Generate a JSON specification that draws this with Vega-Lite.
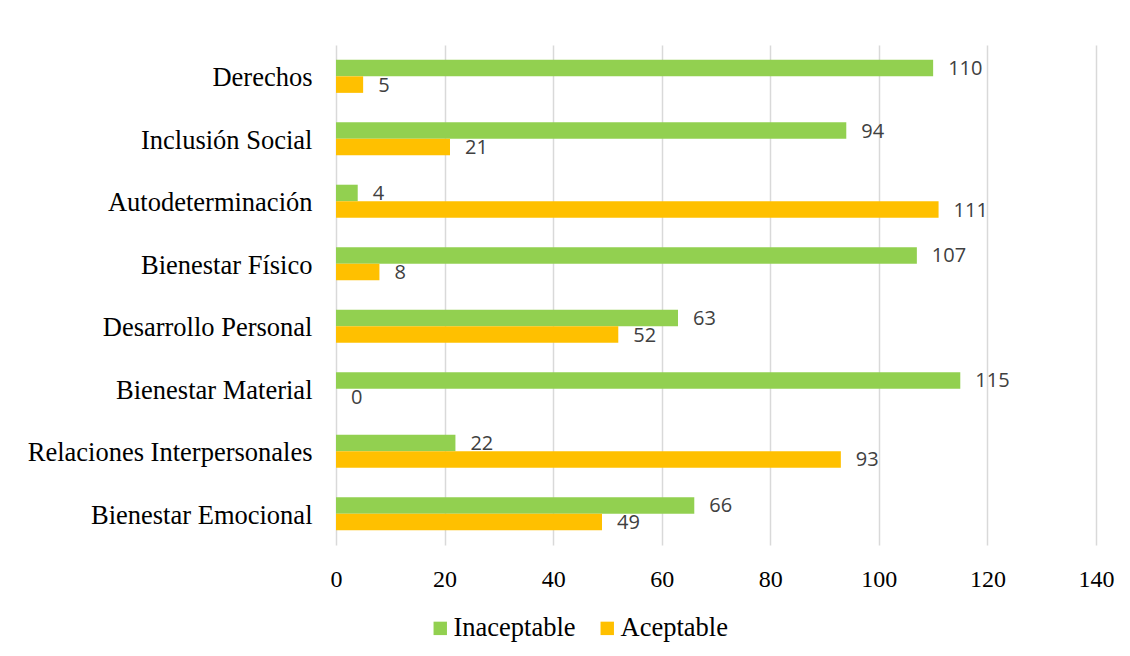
{
  "$schema": "https://vega.github.io/schema/vega-lite/v6.json",
  "autosize": {"type": "none"},
  "width": 760,
  "height": 500,
  "padding": {"left": 336, "top": 45, "right": 34, "bottom": 111},
  "background": "white",
  "data": {
    "values": [
      {"dimension": "Derechos", "nivel": "Inaceptable", "n": 110},
      {"dimension": "Derechos", "nivel": "Aceptable", "n": 5},
      {"dimension": "Inclusión Social", "nivel": "Inaceptable", "n": 94},
      {"dimension": "Inclusión Social", "nivel": "Aceptable", "n": 21},
      {"dimension": "Autodeterminación", "nivel": "Inaceptable", "n": 4},
      {"dimension": "Autodeterminación", "nivel": "Aceptable", "n": 111},
      {"dimension": "Bienestar Físico", "nivel": "Inaceptable", "n": 107},
      {"dimension": "Bienestar Físico", "nivel": "Aceptable", "n": 8},
      {"dimension": "Desarrollo Personal", "nivel": "Inaceptable", "n": 63},
      {"dimension": "Desarrollo Personal", "nivel": "Aceptable", "n": 52},
      {"dimension": "Bienestar Material", "nivel": "Inaceptable", "n": 115},
      {"dimension": "Bienestar Material", "nivel": "Aceptable", "n": 0},
      {"dimension": "Relaciones Interpersonales", "nivel": "Inaceptable", "n": 22},
      {"dimension": "Relaciones Interpersonales", "nivel": "Aceptable", "n": 93},
      {"dimension": "Bienestar Emocional", "nivel": "Inaceptable", "n": 66},
      {"dimension": "Bienestar Emocional", "nivel": "Aceptable", "n": 49}
    ]
  },
  "encoding": {
    "y": {
      "field": "dimension",
      "type": "nominal",
      "sort": ["Derechos", "Inclusión Social", "Autodeterminación", "Bienestar Físico", "Desarrollo Personal", "Bienestar Material", "Relaciones Interpersonales", "Bienestar Emocional"],
      "scale": {"paddingInner": 0.47, "paddingOuter": 0.236},
      "axis": {
        "title": null,
        "domain": false,
        "ticks": false,
        "grid": false,
        "labelFont": "Liberation Serif",
        "labelFontSize": 26.5,
        "labelColor": "#000000",
        "labelPadding": 24,
        "labelOffset": 2,
        "labelLimit": 400
      }
    },
    "yOffset": {
      "field": "nivel",
      "type": "nominal",
      "sort": ["Inaceptable", "Aceptable"],
      "scale": {"paddingInner": 0}
    },
    "x": {
      "field": "n",
      "type": "quantitative",
      "scale": {"domain": [0, 140], "nice": false},
      "axis": {
        "title": null,
        "values": [0, 20, 40, 60, 80, 100, 120, 140],
        "domain": false,
        "ticks": false,
        "grid": true,
        "gridColor": "#d9d9d9",
        "gridWidth": 1.5,
        "labelFont": "Liberation Serif",
        "labelFontSize": 24,
        "labelColor": "#000000",
        "labelPadding": 22,
        "labelFlush": false
      }
    }
  },
  "layer": [
    {
      "mark": {"type": "bar"},
      "encoding": {
        "color": {
          "field": "nivel",
          "type": "nominal",
          "sort": ["Inaceptable", "Aceptable"],
          "scale": {"domain": ["Inaceptable", "Aceptable"], "range": ["#92D050", "#FFC000"]},
          "legend": {
            "title": null,
            "orient": "none",
            "direction": "horizontal",
            "legendX": 91,
            "legendY": 570,
            "symbolType": "square",
            "symbolSize": 180,
            "symbolStrokeWidth": 0,
            "labelFont": "Liberation Serif",
            "labelFontSize": 26.5,
            "labelColor": "#000000",
            "columnPadding": 18,
            "labelOffset": 0
          }
        }
      }
    },
    {
      "mark": {
        "type": "text",
        "align": "left",
        "baseline": "middle",
        "dx": 15,
        "dy": 1,
        "font": "Open Sans",
        "fontSize": 20,
        "color": "#404040"
      },
      "encoding": {
        "text": {"field": "n", "type": "quantitative"}
      }
    }
  ],
  "config": {
    "view": {"stroke": null}
  }
}
